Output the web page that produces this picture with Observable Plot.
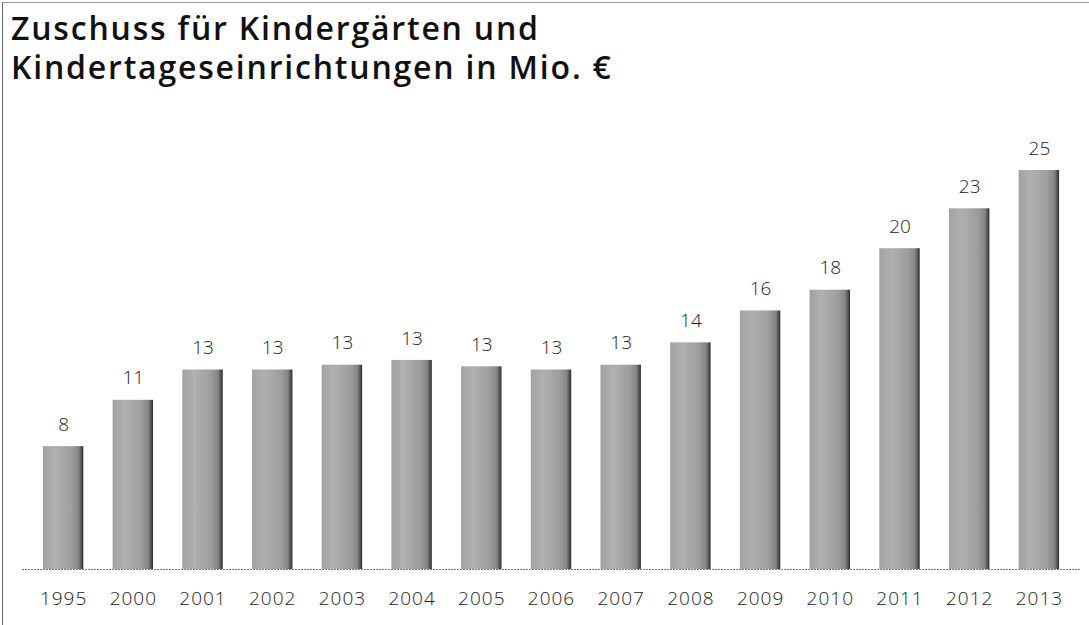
<!DOCTYPE html>
<html>
<head>
<meta charset="utf-8">
<script src="https://cdn.jsdelivr.net/npm/d3@7"></script>
<script src="https://cdn.jsdelivr.net/npm/@observablehq/plot@0.6"></script>
<style>
  html, body { margin: 0; padding: 0; background: #fff; }
  #frame {
    position: relative; width: 1086px; height: 622px;
    margin: 2px 0 0 2px;
    border-left: 1px solid #666; border-top: 1px solid #999;
    font-family: "Open Sans", "Noto Sans", sans-serif;
    overflow: hidden;
  }
  #title {
    position: absolute; left: 8px; top: 5px;
    font-size: 32px; font-weight: 600; line-height: 39px; color: #111;
    letter-spacing: 1.8px;
  }
  #chart { position: absolute; left: -3px; top: 94px; }
</style>
</head>
<body>
<div id="frame">
  <div id="title">Zuschuss für Kindergärten und<br>Kindertageseinrichtungen in Mio. €</div>
  <div id="chart"></div>
</div>
<script>
const years = ["1995","2000","2001","2002","2003","2004","2005","2006","2007","2008","2009","2010","2011","2012","2013"];
const values = [7.7, 10.6, 12.5, 12.5, 12.8, 13.1, 12.7, 12.5, 12.8, 14.2, 16.2, 17.5, 20.1, 22.6, 25.0];
const labels = ["8","11","13","13","13","13","13","13","13","14","16","18","20","23","25"];

const data = years.map((y, i) => ({year: y, value: values[i], label: labels[i]}));

const svg = Plot.plot({
  width: 1089,
  height: 528,
  marginLeft: 22,
  marginRight: 9,
  marginTop: 73,
  marginBottom: 56,
  style: {fontFamily: "'Open Sans', 'Noto Sans', sans-serif", background: "transparent"},
  x: {domain: years, paddingInner: 0.42, paddingOuter: 0.3, round: false, label: null},
  y: {domain: [0, 25], axis: null},
  marks: [
    Plot.barY(data, {x: "year", y: "value", fill: "url(#barGrad)"}),
    Plot.ruleY([0], {stroke: "#777", strokeWidth: 1.2, strokeDasharray: "2,1"}),
    Plot.text(data, {x: "year", y: "value", text: "label", dy: -22, fontSize: 19, fontWeight: 300, fill: "#222"}),
    Plot.axisX({tickSize: 0, tickPadding: 22, fontSize: 19, fontWeight: 300, color: "#222", label: null})
  ]
});

const defs = d3.select(svg).insert("defs", ":first-child");
const g = defs.append("linearGradient").attr("id", "barGrad").attr("x1", "0").attr("x2", "1").attr("y1", "0").attr("y2", "0");
[["0%", "#a2a2a2"], ["30%", "#b0b0b0"], ["70%", "#9e9e9e"], ["88%", "#868686"], ["95%", "#565656"], ["100%", "#2a2a2a"]]
  .forEach(([o, c]) => g.append("stop").attr("offset", o).attr("stop-color", c));

d3.select(svg).selectAll("g[aria-label='x-axis tick label'] text").style("letter-spacing", "1px");

document.getElementById("chart").appendChild(svg);
</script>
</body>
</html>
